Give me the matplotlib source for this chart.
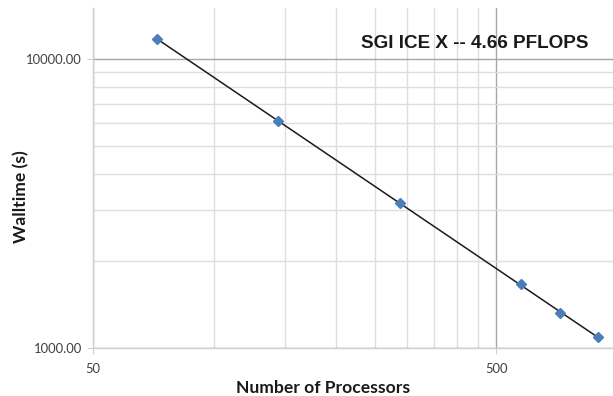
import numpy as np
import matplotlib
matplotlib.use("Agg")
import matplotlib.pyplot as plt
from matplotlib.ticker import FixedLocator, FixedFormatter, NullFormatter

# Data
processors = [72, 144, 288, 576, 720, 896]
walltime = [11730, 6100, 3175, 1665, 1320, 1090]

x_major = [50, 500]
x_major_labels = ["50", "500"]
x_minor = [100, 150, 200, 250, 300, 350, 400, 450]
y_major = [1000, 10000]
y_major_labels = ["1000.00", "10000.00"]
y_minor = [2000, 3000, 4000, 5000, 6000, 7000, 8000, 9000]

title_text = "SGI ICE X -- 4.66 PFLOPS"

fig = plt.figure(figsize=(6.13, 3.96), dpi=100)
ax = fig.add_axes([93/613, 1-348/396, 1-93/613, (348-8)/396])
ax.set_xscale("log")
ax.set_yscale("log")
ax.set_xlim(50, 975)
ax.set_ylim(1000, 15000)

ax.xaxis.set_major_locator(FixedLocator(x_major))
ax.xaxis.set_major_formatter(FixedFormatter(x_major_labels))
ax.xaxis.set_minor_locator(FixedLocator(x_minor))
ax.xaxis.set_minor_formatter(NullFormatter())
ax.yaxis.set_major_locator(FixedLocator(y_major))
ax.yaxis.set_major_formatter(FixedFormatter(y_major_labels))
ax.yaxis.set_minor_locator(FixedLocator(y_minor))
ax.yaxis.set_minor_formatter(NullFormatter())

ax.grid(which="major", color="#a6a6a6", linewidth=1.0)
ax.grid(which="minor", color="#dedede", linewidth=1.0)
ax.set_axisbelow(True)

for s in ["top", "right"]:
    ax.spines[s].set_visible(False)
for s in ["left", "bottom"]:
    ax.spines[s].set_color("#d0d0d0")
    ax.spines[s].set_linewidth(1.0)

ax.tick_params(which="major", length=4, color="#d0d0d0", labelsize=9.4,
               labelcolor="#404040")
ax.tick_params(axis="y", which="major", pad=4)
ax.tick_params(axis="x", which="major", pad=7)
ax.tick_params(which="minor", length=0)
for lbl in ax.get_xticklabels() + ax.get_yticklabels():
    lbl.set_fontfamily("Lato")

# Power-law trendline fitted to the data
lx = np.log10(processors)
ly = np.log10(walltime)
b, a = np.polyfit(lx, ly, 1)
xs = np.array([min(processors), max(processors)])
ax.plot(xs, 10**(a + b*np.log10(xs)), color="#1a1a1a", linewidth=1.1, zorder=3)

ax.plot(processors, walltime, linestyle="none", marker="D", markersize=5.5,
        color="#4a7ebb", markeredgecolor="#4a7ebb", zorder=4)

fig.text(475/613, 1-43/396, title_text, ha="center", va="center",
         fontsize=13.6, fontweight="bold", family="Liberation Sans", color="#1a1a1a")

fig.text(21/613, 1-197/396, "Walltime (s)", rotation=90, ha="center", va="center",
         fontsize=12.6, fontweight="bold", family="Lato", color="#1a1a1a")
fig.text(323/613, 1-388/396, "Number of Processors", ha="center", va="center",
         fontsize=12.6, fontweight="bold", family="Lato", color="#1a1a1a")

fig.savefig("out.png", dpi=100)
